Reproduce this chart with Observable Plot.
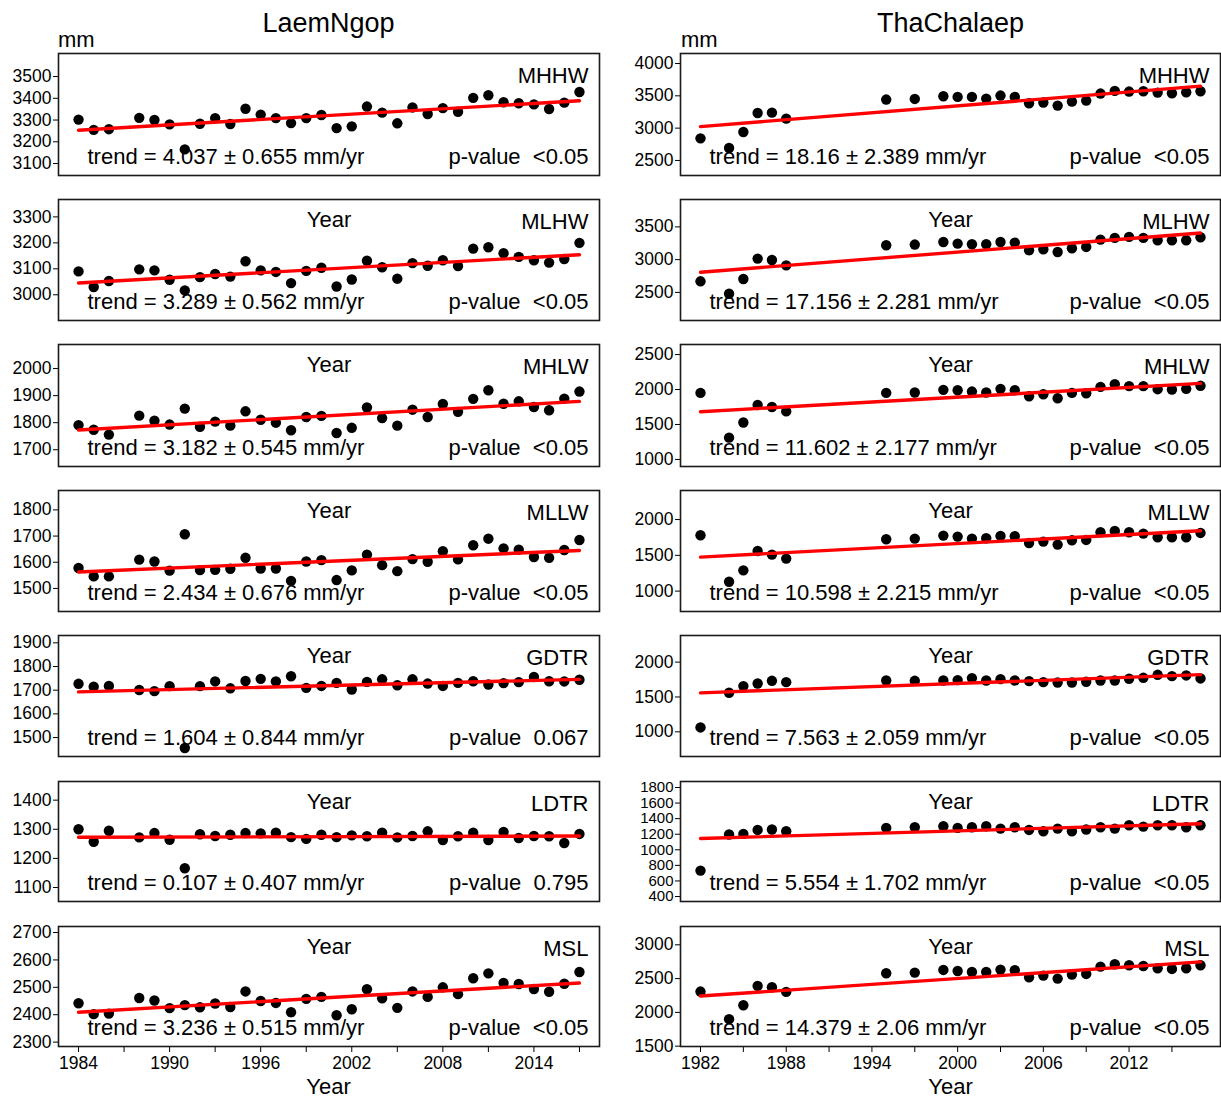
<!DOCTYPE html>
<html><head><meta charset="utf-8">
<script src="https://cdn.jsdelivr.net/npm/d3@7"></script>
<script src="https://cdn.jsdelivr.net/npm/@observablehq/plot@0.6"></script>
<style>
body{margin:0;background:#fff;font-family:"Liberation Sans",Arial,sans-serif;}
#root{position:relative;width:1221px;height:1099px;overflow:hidden;background:#fff}
.abs{position:absolute;color:#000;white-space:nowrap;line-height:1}
.title{font-size:27px;transform:translate(-50%,-50%)}
.xlab{font-size:22px;transform:translate(-50%,-50%)}
.mm{font-size:22px;transform:translateY(-50%)}
</style></head><body><div id="root"></div>
<script>
// ---------- data ----------
const stations = ["LaemNgop", "ThaChalaep"];
const levels = ["MHHW", "MLHW", "MHLW", "MLLW", "GDTR", "LDTR", "MSL"];

const yearsLaem = [1984,1985,1986,1988,1989,1990,1991,1992,1993,1994,1995,1996,1997,1998,1999,2000,2001,2002,2003,2004,2005,2006,2007,2008,2009,2010,2011,2012,2013,2014,2015,2016,2017];
const yearsTha = [1982,1984,1985,1986,1987,1988,1995,1997,1999,2000,2001,2002,2003,2004,2005,2006,2007,2008,2009,2010,2011,2012,2013,2014,2015,2016,2017];

const laemMHHW = [3302,3255,3258,3310,3300,3280,3165,3283,3309,3282,3352,3325,3309,3286,3309,3323,3263,3271,3362,3334,3285,3358,3328,3355,3338,3402,3414,3382,3377,3372,3351,3380,3429];
const laemMLHW = [3090,3030,3053,3098,3094,3058,3017,3068,3080,3070,3129,3094,3088,3045,3092,3104,3032,3059,3131,3106,3062,3122,3112,3133,3111,3178,3183,3160,3146,3133,3124,3138,3200];
const laemMHLW = [1791,1774,1756,1826,1807,1793,1852,1785,1804,1789,1842,1811,1800,1772,1821,1825,1762,1781,1856,1817,1789,1848,1821,1869,1840,1888,1920,1870,1879,1858,1846,1889,1915];
const laemMLLW = [1578,1546,1546,1610,1603,1568,1707,1570,1571,1575,1617,1576,1576,1529,1603,1608,1532,1569,1629,1589,1566,1612,1602,1642,1611,1665,1690,1653,1648,1620,1617,1647,1685];
const laemGDTR = [1727,1715,1718,1701,1696,1717,1456,1717,1737,1708,1739,1748,1737,1759,1710,1718,1731,1703,1735,1746,1721,1746,1728,1718,1731,1738,1724,1730,1734,1756,1738,1737,1744];
const laemLDTR = [1300,1257,1295,1272,1287,1264,1166,1283,1277,1281,1287,1286,1288,1273,1267,1281,1273,1279,1276,1288,1272,1277,1293,1263,1276,1288,1263,1291,1270,1277,1276,1253,1284];
const laemMSL  = [2442,2402,2404,2461,2452,2424,2435,2427,2441,2428,2485,2450,2443,2409,2458,2465,2398,2420,2493,2460,2425,2485,2465,2500,2475,2533,2551,2516,2512,2494,2484,2513,2556];

const thaMHHW = [2842,2692,2940,3235,3240,3147,3442,3452,3493,3483,3483,3457,3504,3483,3385,3396,3349,3411,3426,3535,3576,3566,3571,3550,3540,3555,3571];
const thaMLHW = [2669,2480,2704,3016,2995,2913,3220,3230,3270,3245,3235,3235,3270,3260,3143,3158,3117,3174,3194,3306,3332,3347,3332,3296,3296,3296,3342];
const thaMHLW = [1952,1312,1529,1779,1750,1687,1952,1957,1995,1990,1971,1957,2010,1990,1904,1933,1875,1952,1947,2038,2077,2048,2048,2005,2000,2010,2053];
const thaMLLW = [1780,1131,1290,1561,1510,1454,1724,1734,1776,1762,1734,1738,1771,1767,1673,1692,1650,1710,1715,1823,1841,1823,1804,1752,1752,1752,1813];
const thaGDTR = [1063,1560,1656,1694,1732,1713,1737,1732,1737,1742,1771,1737,1756,1737,1728,1713,1708,1708,1718,1737,1737,1761,1775,1818,1799,1809,1766];
const thaLDTR = [733,1196,1204,1255,1260,1238,1281,1289,1302,1281,1289,1302,1272,1289,1255,1238,1272,1238,1260,1289,1272,1315,1298,1315,1315,1289,1315];
const thaMSL  = [2308,1900,2106,2392,2372,2303,2579,2589,2628,2613,2598,2598,2633,2623,2520,2544,2500,2559,2569,2677,2712,2697,2687,2653,2643,2653,2697];

const trendLaem = ["4.037 ± 0.655","3.289 ± 0.562","3.182 ± 0.545","2.434 ± 0.676","1.604 ± 0.844","0.107 ± 0.407","3.236 ± 0.515"];
const pLaem = ["<0.05","<0.05","<0.05","<0.05","0.067","0.795","<0.05"];
const trendTha = ["18.16 ± 2.389","17.156 ± 2.281","11.602 ± 2.177","10.598 ± 2.215","7.563 ± 2.059","5.554 ± 1.702","14.379 ± 2.06"];
const pTha = ["<0.05","<0.05","<0.05","<0.05","<0.05","<0.05","<0.05"];

const yTicksLaem = [
  [3100,3200,3300,3400,3500],
  [3000,3100,3200,3300],
  [1700,1800,1900,2000],
  [1500,1600,1700,1800],
  [1500,1600,1700,1800,1900],
  [1100,1200,1300,1400],
  [2300,2400,2500,2600,2700]
];
const yTicksTha = [
  [2500,3000,3500,4000],
  [2500,3000,3500],
  [1000,1500,2000,2500],
  [1000,1500,2000],
  [1000,1500,2000],
  [400,600,800,1000,1200,1400,1600,1800],
  [1500,2000,2500,3000]
];
const xTicksLaem = [1984,1987,1990,1993,1996,1999,2002,2005,2008,2011,2014,2017];
const xLabelsLaem = [1984,1990,1996,2002,2008,2014];
const xTicksTha = [1982,1985,1988,1991,1994,1997,2000,2003,2006,2009,2012,2015];
const xLabelsTha = [1982,1988,1994,2000,2006,2012];

// ---------- layout ----------
const FONT = '"Liberation Sans", Arial, sans-serif';
const rowTop = [53,199,344,490,635,781,926];
const rowBottom = [175,320,466,611,756,901,1046];
const yDomLaem = [[3045,3606],[2901,3367],[1638,2089],[1412,1874],[1420,1931],[1052,1464],[2284,2722]];
const yDomTha = [[2267,4155],[2071,3918],[899,2644],[715,2406],[646,2382],[336,1877],[1495,3271]];

const cols = [
  {years: yearsLaem, series: [laemMHHW,laemMLHW,laemMHLW,laemMLLW,laemGDTR,laemLDTR,laemMSL],
   trend: trendLaem, p: pLaem, yTicks: yTicksLaem, yDom: yDomLaem, xDom: [1982.68, 2018.32],
   xTicks: xTicksLaem, xLabels: xLabelsLaem, left: 0, width: 610, ml: 58, mr: 11},
  {years: yearsTha, series: [thaMHHW,thaMLHW,thaMHLW,thaMLLW,thaGDTR,thaLDTR,thaMSL],
   trend: trendTha, p: pTha, yTicks: yTicksTha, yDom: yDomTha, xDom: [1980.6, 2018.4],
   xTicks: xTicksTha, xLabels: xLabelsTha, left: 610, width: 611, ml: 70, mr: 1}
];

const root = document.getElementById("root");

function addDiv(cls, text, x, y) {
  const d = document.createElement("div");
  d.className = "abs " + cls;
  d.textContent = text;
  d.style.left = x + "px";
  d.style.top = y + "px";
  root.appendChild(d);
}
addDiv("title", stations[0], 328.5, 23);
addDiv("title", stations[1], 950.5, 23);
addDiv("mm", "mm", 58, 40);
addDiv("mm", "mm", 681, 40);
addDiv("xlab", "Year", 328.5, 1087);
addDiv("xlab", "Year", 950.5, 1087);

cols.forEach((c) => {
  levels.forEach((lev, r) => {
    const isBottom = r === 6;
    const mt = 4, mb = isBottom ? 30 : 4;
    const T = rowTop[r], B = rowBottom[r];
    const height = (B - T) + mt + mb;
    const data = c.years.map((yr, i) => ({year: yr, value: c.series[r][i]}));
    const txt = {text: d => d, lineAnchor: "middle", fontSize: 22};
    const dense = c.yTicks[r].length > 6;
    const marks = [
      Plot.dot(data, {x: "year", y: "value", r: 5.2, fill: "black"}),
      Plot.linearRegressionY(data, {x: "year", y: "value", stroke: "#ff0000", strokeWidth: 3.4, ci: 0}),
      Plot.frame({stroke: "#1a1a1a", strokeWidth: 1.6}),
      Plot.text([lev], {...txt, frameAnchor: "top-right", dx: -11, dy: 22, textAnchor: "end"}),
      Plot.text(["trend = " + c.trend[r] + " mm/yr"], {...txt, frameAnchor: "bottom-left", dx: 29, dy: -19, textAnchor: "start"}),
      Plot.text(["p-value\u00a0\u00a0" + c.p[r]], {...txt, frameAnchor: "bottom-right", dx: -11, dy: -19, textAnchor: "end"})
    ];
    if (r > 0) marks.push(Plot.text(["Year"], {...txt, frameAnchor: "top", dy: 20}));
    const svg = Plot.plot({
      width: c.width,
      height,
      marginLeft: c.ml,
      marginRight: c.mr,
      marginTop: mt,
      marginBottom: mb,
      style: {fontFamily: FONT, fontSize: "17.5px", color: "black", background: "transparent", overflow: "visible"},
      x: isBottom
        ? {domain: c.xDom, ticks: c.xTicks, tickFormat: d => (c.xLabels.includes(d) ? String(d) : ""), tickSize: 6, tickPadding: 4, label: null}
        : {domain: c.xDom, axis: null},
      y: {domain: c.yDom[r], ticks: c.yTicks[r], tickFormat: d => String(d), tickSize: 5, tickPadding: 2, label: null},
      marks
    });
    if (dense) {
      svg.querySelectorAll('[aria-label="y-axis tick label"] text, [aria-label="y-axis tick label"]').forEach(el => el.setAttribute("font-size", "15"));
    }
    svg.style.position = "absolute";
    svg.style.left = c.left + "px";
    svg.style.top = (T - mt) + "px";
    root.appendChild(svg);
  });
});
</script></body></html>
